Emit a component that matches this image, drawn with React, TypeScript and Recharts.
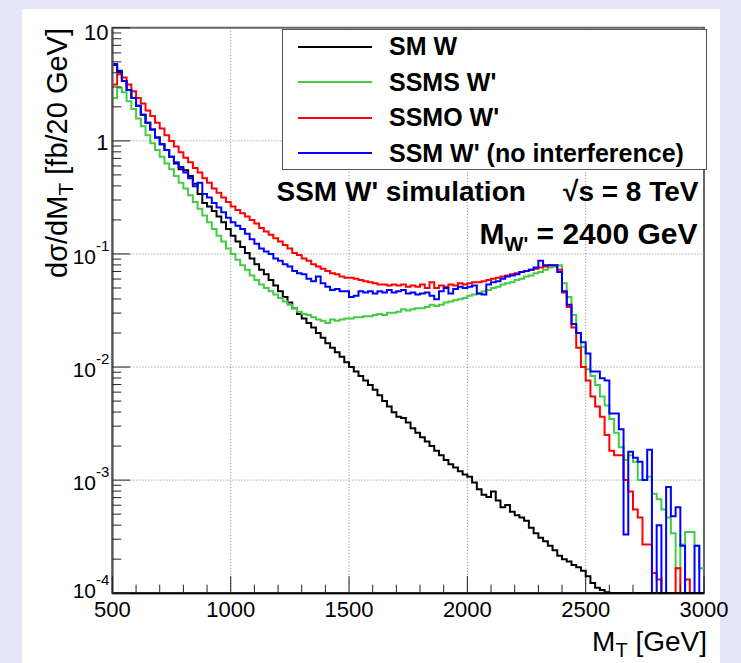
import React from "react";
import { LineChart, Line, XAxis, YAxis, CartesianGrid, ReferenceArea, Legend } from "recharts";

const FONT = "'Liberation Sans', Arial, Helvetica, sans-serif";

// histogram binning: 125 bins of 20 GeV from 500 to 3000
const BIN_LOW = 500;
const BIN_WIDTH = 20;

// dsigma/dMT [fb / 20 GeV], one value per bin (0 = empty bin)
const smW = [
  4.68, 4.07, 3.39, 2.82, 2.40, 2.04, 1.70, 1.45, 1.26, 1.07,
  0.933, 0.832, 0.724, 0.631, 0.562, 0.550, 0.490, 0.417, 0.339, 0.282,
  0.263, 0.240, 0.214, 0.191, 0.166, 0.145, 0.129, 0.115, 0.102, 0.0912,
  0.0813, 0.0724, 0.0661, 0.0589, 0.0525, 0.0468, 0.0417, 0.0372, 0.0331, 0.0295,
  0.0269, 0.0245, 0.0224, 0.0200, 0.0182, 0.0162, 0.0148, 0.0135, 0.0123, 0.0110,
  0.0100, 0.00912, 0.00832, 0.00759, 0.00692, 0.00631, 0.00562, 0.00501, 0.00447, 0.00398,
  0.00363, 0.00355, 0.00324, 0.00288, 0.00263, 0.00240, 0.00219, 0.00200, 0.00182, 0.00166,
  0.00151, 0.00138, 0.00129, 0.00120, 0.00112, 0.00107, 9.55e-4, 8.32e-4, 7.41e-4, 7.08e-4,
  7.94e-4, 6.61e-4, 5.75e-4, 6.03e-4, 5.25e-4, 4.90e-4, 4.68e-4, 4.37e-4, 3.80e-4, 3.39e-4,
  3.09e-4, 2.88e-4, 2.63e-4, 2.40e-4, 2.14e-4, 2.00e-4, 1.91e-4, 1.78e-4, 1.70e-4, 1.58e-4,
  1.41e-4, 1.23e-4, 1.12e-4, 1.07e-4, 1.02e-4, 0, 0, 0, 0, 0,
  0, 0, 0, 0, 0, 0, 0, 0, 0, 0,
  0, 0, 0, 0, 0,
];

const ssmsW = [
  2.40, 2.95, 2.69, 2.24, 1.91, 1.58, 1.35, 1.12, 0.955, 0.832,
  0.724, 0.631, 0.562, 0.490, 0.427, 0.380, 0.331, 0.288, 0.251, 0.219,
  0.191, 0.166, 0.145, 0.129, 0.112, 0.100, 0.0891, 0.0794, 0.0724, 0.0646,
  0.0589, 0.0537, 0.0501, 0.0468, 0.0437, 0.0407, 0.0380, 0.0355, 0.0331, 0.0309,
  0.0295, 0.0288, 0.0275, 0.0263, 0.0257, 0.0245, 0.0263, 0.0257, 0.0263, 0.0269,
  0.0269, 0.0275, 0.0275, 0.0282, 0.0282, 0.0288, 0.0295, 0.0288, 0.0302, 0.0302,
  0.0309, 0.0324, 0.0316, 0.0324, 0.0331, 0.0331, 0.0339, 0.0355, 0.0347, 0.0355,
  0.0372, 0.0380, 0.0389, 0.0398, 0.0407, 0.0427, 0.0437, 0.0447, 0.0468, 0.0479,
  0.0501, 0.0513, 0.0537, 0.0550, 0.0562, 0.0589, 0.0603, 0.0631, 0.0646, 0.0676,
  0.0692, 0.0724, 0.0759, 0.0776, 0.0794, 0.0550, 0.0417, 0.0288, 0.0200, 0.0151,
  0.00955, 0.00832, 0.00692, 0.00550, 0.00457, 0.00347, 0.00263, 0.00195, 0.00151, 0.00166,
  0.00145, 0.00100, 0.00100, 0.00107, 7.59e-4, 6.76e-4, 5.50e-4, 4.68e-4, 3.39e-4, 1.66e-4,
  2.69e-4, 3.47e-4, 3.47e-4, 2.63e-4, 1.66e-4,
];

const ssmoW = [
  3.16, 3.89, 3.63, 3.16, 2.75, 2.40, 2.14, 1.86, 1.66, 1.45,
  1.29, 1.12, 1.00, 0.891, 0.794, 0.708, 0.646, 0.575, 0.525, 0.468,
  0.427, 0.380, 0.347, 0.316, 0.288, 0.263, 0.245, 0.229, 0.214, 0.200,
  0.186, 0.170, 0.158, 0.148, 0.138, 0.129, 0.120, 0.112, 0.102, 0.0977,
  0.0912, 0.0871, 0.0813, 0.0776, 0.0741, 0.0708, 0.0676, 0.0661, 0.0631, 0.0617,
  0.0617, 0.0603, 0.0589, 0.0575, 0.0562, 0.0550, 0.0537, 0.0537, 0.0525, 0.0537,
  0.0525, 0.0537, 0.0513, 0.0525, 0.0513, 0.0537, 0.0501, 0.0562, 0.0501, 0.0525,
  0.0513, 0.0537, 0.0525, 0.0550, 0.0537, 0.0550, 0.0562, 0.0562, 0.0575, 0.0589,
  0.0603, 0.0617, 0.0631, 0.0646, 0.0661, 0.0676, 0.0692, 0.0708, 0.0724, 0.0741,
  0.0759, 0.0776, 0.0794, 0.0794, 0.0724, 0.0457, 0.0339, 0.0224, 0.0148, 0.0100,
  0.00759, 0.00550, 0.00447, 0.00363, 0.00251, 0.00182, 0.00166, 0.00166, 0.00100, 7.94e-4,
  5.50e-4, 4.68e-4, 2.69e-4, 2.69e-4, 1.51e-4, 1.32e-4, 0, 0, 0, 1.66e-4,
  0, 1.32e-4, 0, 0, 0,
];

const ssmNoInt = [
  4.79, 4.17, 3.39, 2.82, 2.40, 2.04, 1.70, 1.45, 1.26, 1.07,
  0.933, 0.832, 0.724, 0.646, 0.589, 0.525, 0.468, 0.398, 0.427, 0.339,
  0.316, 0.282, 0.257, 0.234, 0.209, 0.191, 0.178, 0.166, 0.151, 0.135,
  0.123, 0.112, 0.105, 0.100, 0.0912, 0.0871, 0.0813, 0.0776, 0.0708, 0.0676,
  0.0661, 0.0603, 0.0575, 0.0631, 0.0550, 0.0513, 0.0479, 0.0490, 0.0468, 0.0468,
  0.0417, 0.0427, 0.0468, 0.0457, 0.0468, 0.0447, 0.0468, 0.0457, 0.0479, 0.0457,
  0.0468, 0.0479, 0.0447, 0.0457, 0.0437, 0.0447, 0.0457, 0.0427, 0.0398, 0.0468,
  0.0501, 0.0447, 0.0490, 0.0513, 0.0501, 0.0513, 0.0525, 0.0447, 0.0437, 0.0537,
  0.0562, 0.0575, 0.0603, 0.0631, 0.0646, 0.0661, 0.0692, 0.0708, 0.0724, 0.0759,
  0.0871, 0.0794, 0.0794, 0.0794, 0.0692, 0.0468, 0.0355, 0.0240, 0.0200, 0.0166,
  0.0132, 0.00912, 0.00912, 0.00794, 0.00759, 0.00389, 0.00389, 0.00282, 3.31e-4, 0.00178,
  0.00158, 0.00145, 0.00100, 0.00186, 0, 3.98e-4, 0, 8.71e-4, 4.79e-4, 5.75e-4,
  2.63e-4, 0, 0, 2.63e-4, 0,
];

const SERIES = [
  { key: "sm", name: "SM W", color: "#000000", values: smW },
  { key: "ssms", name: "SSMS W'", color: "#44cc44", values: ssmsW },
  { key: "ssmo", name: "SSMO W'", color: "#ff0000", values: ssmoW },
  { key: "ssm", name: "SSM W' (no interference)", color: "#0000ff", values: ssmNoInt },
];

const X_MAJOR = [500, 1000, 1500, 2000, 2500, 3000];
const X_GRID = [1000, 1500, 2000, 2500];
const DECADES = [1e-4, 1e-3, 1e-2, 1e-1, 1, 10];
const Y_GRID = [1e-3, 1e-2, 1e-1, 1];
const Y_MIN = 1e-4;
const Y_MAX = 10;

// minor ticks: every 100 GeV on x, 2..9 per decade on y
const xTicks: number[] = [];
for (let v = X_MAJOR[0]; v <= X_MAJOR[X_MAJOR.length - 1]; v += 100) xTicks.push(v);
const yTicks: number[] = [];
DECADES.forEach((d, i) => {
  yTicks.push(d);
  if (i < DECADES.length - 1) for (let m = 2; m <= 9; m++) yTicks.push(m * d);
});

// one row per bin low edge, plus a closing point at the upper edge
const nBins = smW.length;
const rows = Array.from({ length: nBins + 1 }, (_, i) => {
  const idx = Math.min(i, nBins - 1);
  const row: Record<string, number> = { x: BIN_LOW + i * BIN_WIDTH };
  SERIES.forEach((s) => {
    // empty bins sit on the axis floor, as ROOT draws them
    row[s.key] = Math.max(s.values[idx], Y_MIN);
  });
  return row;
});

function XTick(props: any) {
  const { x, y, payload } = props;
  const v = payload.value as number;
  const major = v % 500 === 0;
  return (
    <g>
      <line x1={x} y1={y} x2={x} y2={y - (major ? 17 : 8.5)} stroke="#222" strokeWidth={1} />
      {major && (
        <text x={x} y={y + 24} textAnchor="middle" fontSize={22} fontFamily={FONT} fill="#000">
          {v}
        </text>
      )}
    </g>
  );
}

function YTick(props: any) {
  const { x, y, payload } = props;
  const v = payload.value as number;
  const lg = Math.log10(v);
  const e = Math.round(lg);
  const major = Math.abs(lg - e) < 1e-6;
  let label = null;
  if (major) {
    if (e === 0 || e === 1) {
      label = (
        <text x={x - 4} y={y + (e === 1 ? 12 : 9)} textAnchor="end" fontSize={22} fontFamily={FONT} fill="#000">
          {e === 0 ? "1" : "10"}
        </text>
      );
    } else {
      const base = e === -4 ? 5 : 10;
      label = (
        <text x={x - 3} y={y + base} textAnchor="end" fontSize={21} fontFamily={FONT} fill="#000">
          10
          <tspan dy={-13} fontSize={15}>
            {String(e)}
          </tspan>
        </text>
      );
    }
  }
  return (
    <g>
      <line x1={x} y1={y} x2={x + (major ? 17.8 : 8.9)} y2={y} stroke="#222" strokeWidth={1} />
      {label}
    </g>
  );
}

function LegendBox() {
  return (
    <div
      style={{
        position: "relative",
        width: 425,
        height: 141,
        boxSizing: "border-box",
        border: "1.5px solid #555",
        background: "#fff",
        fontFamily: FONT,
        fontWeight: "bold",
        fontSize: 25,
        color: "#000",
      }}
    >
      {SERIES.map((s, i) => (
        <div
          key={s.key}
          style={{
            position: "absolute",
            left: 0,
            top: 16.7 + i * 35.5 - 15,
            height: 30,
            display: "flex",
            alignItems: "center",
            whiteSpace: "nowrap",
          }}
        >
          <div style={{ marginLeft: 15, width: 74, height: 2, background: s.color }} />
          <span style={{ marginLeft: 17 }}>{s.name}</span>
        </div>
      ))}
    </div>
  );
}

export default function App() {
  return (
    <div
      style={{
        position: "absolute",
        left: 0,
        top: 0,
        width: 741,
        height: 663,
        background: "#e6e6fa",
        overflow: "hidden",
        fontFamily: FONT,
      }}
    >
      <div style={{ position: "absolute", left: 22, top: 9, width: 698, height: 654, background: "#fff" }} />
      <div style={{ position: "absolute", left: 0, top: 0 }}>
        <LineChart width={741} height={663} data={rows} margin={{ top: 27.8, right: 37, bottom: 29.8, left: 32.4 }}>
          <CartesianGrid
            horizontalValues={Y_GRID}
            verticalValues={X_GRID}
            stroke="#888"
            strokeDasharray="1 2"
          />
          <XAxis
            type="number"
            dataKey="x"
            domain={[X_MAJOR[0], X_MAJOR[X_MAJOR.length - 1]]}
            ticks={xTicks}
            interval={0}
            tickSize={0}
            tickMargin={0}
            tickLine={false}
            height={40}
            allowDataOverflow
            axisLine={{ stroke: "#000", strokeWidth: 2 }}
            tick={(p: any) => <XTick {...p} />}
          />
          <YAxis
            type="number"
            scale="log"
            domain={[Y_MIN, Y_MAX]}
            ticks={yTicks}
            interval={0}
            tickSize={0}
            tickMargin={0}
            tickLine={false}
            width={80}
            allowDataOverflow
            axisLine={{ stroke: "#555", strokeWidth: 2 }}
            tick={(p: any) => <YTick {...p} />}
          />
          <ReferenceArea
            x1={X_MAJOR[0]}
            x2={X_MAJOR[X_MAJOR.length - 1]}
            y1={Y_MIN}
            y2={Y_MAX}
            fill="none"
            stroke="#666"
            strokeWidth={2}
          />
          {SERIES.map((s) => (
            <Line
              key={s.key}
              type="stepAfter"
              dataKey={s.key}
              name={s.name}
              stroke={s.color}
              strokeWidth={2}
              dot={false}
              activeDot={false}
              isAnimationActive={false}
            />
          ))}
          <Legend
            verticalAlign="middle"
            align="center"
            content={() => <LegendBox />}
            wrapperStyle={{ left: 282, top: 29, width: 425, height: 141, margin: 0 }}
          />
        </LineChart>
      </div>
      <svg
        width={741}
        height={663}
        style={{ position: "absolute", left: 0, top: 0, pointerEvents: "none" }}
        fontFamily={FONT}
      >
        <text transform="translate(67, 28) rotate(-90)" textAnchor="end" fontSize={29} fill="#000">
          dσ/dM
          <tspan dy={6} fontSize={21}>
            T
          </tspan>
          <tspan dy={-6}> [fb/20 GeV]</tspan>
        </text>
        <text x={707} y={651} textAnchor="end" fontSize={28} fill="#000">
          M
          <tspan dy={6} fontSize={20}>
            T
          </tspan>
          <tspan dy={-6}> [GeV]</tspan>
        </text>
        <text x={276.5} y={201} fontSize={28} fontWeight="bold" fill="#000">
          SSM W' simulation
        </text>
        <text x={698.5} y={201} textAnchor="end" fontSize={28} fontWeight="bold" fill="#000">
          √s = 8 TeV
        </text>
        <text x={697.5} y={244} textAnchor="end" fontSize={30} fontWeight="bold" fill="#000">
          M
          <tspan dy={7} fontSize={20}>
            W'
          </tspan>
          <tspan dy={-7}> = 2400 GeV</tspan>
        </text>
      </svg>
    </div>
  );
}
